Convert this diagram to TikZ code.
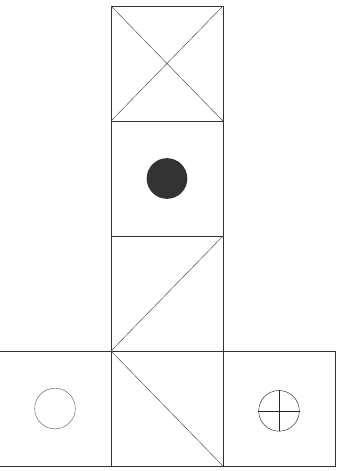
\documentclass[tikz,border=0pt]{standalone}
\usepackage{tikz}
\usetikzlibrary{positioning}
\tikzset{
  face/.style={
    draw=black!80,
    thin,
    minimum width=3.36cm,
    minimum height=3.45cm,
    inner sep=0pt,
    outer sep=0pt
  },
  spot/.style={circle, inner sep=0pt, minimum size=1.22cm},
  edge/.style={draw=black!70, thin}
}

\begin{document}
\begin{tikzpicture}[x=0.03cm, y=-0.03cm]
        \useasboundingbox (0,0) rectangle (337,471);

        \node[face] (top) at (167,63.5) {};
        \node[face, below=0pt of top] (dot) {};
        \node[face, below=0pt of dot] (slash) {};
        \node[face, below=0pt of slash] (back) {};
        \node[face, left=0pt of back] (ring) {};
        \node[face, right=0pt of back] (cross) {};

        \draw[edge] (top.north west) -- (top.south east)
                    (top.north east) -- (top.south west);
        \draw[edge] (slash.south west) -- (slash.north east);
        \draw[edge] (back.north west) -- (back.south east);

        \node[spot, fill=black!80] (ball) at (dot) {};
        \node[spot, draw=black!60, thin] (hoop) at (ring) {};
        \node[spot, draw=black!85, thin] (target) at ([yshift=-2]cross) {};
        \draw[black!85, thin] (target.north) -- (target.south)
                              (target.west) -- (target.east);
\end{tikzpicture}
\end{document}
